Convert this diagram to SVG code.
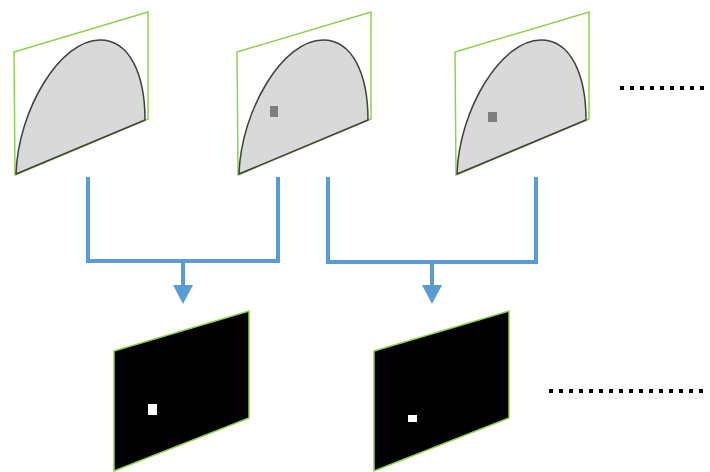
<svg xmlns="http://www.w3.org/2000/svg" xmlns:xlink="http://www.w3.org/1999/xlink" width="710" height="472" viewBox="0 0 710 472">
  <style>
    .frame { fill: none; stroke: #92d050; stroke-width: 1.5; }
    .region { fill: #d9d9d9; stroke: #404040; stroke-width: 1.5; stroke-linejoin: round; }
    .mark { fill: #7f7f7f; }
    .mask { fill: #000000; stroke: #92d050; stroke-width: 1.5; }
    .hit { fill: #ffffff; }
    .link { fill: none; stroke: #5b9bd5; stroke-width: 4; stroke-linejoin: miter; }
    .head { fill: #5b9bd5; }
    .more { stroke: #000000; stroke-width: 4; stroke-dasharray: 4 6; }
  </style>
  <defs>
    <!-- slanted frame with the grey region inside -->
    <g id="slice">
      <polygon class="frame" points="14,52 148,12 148,119 15,175"/>
      <path class="region" d="M16,174 C18,110 60,40 100,40 C130,40 145,75 145,120 Z"/>
    </g>
    <polygon id="maskShape" class="mask" points="114,351 249,311 249,418 114,471"/>
  </defs>

  <g id="slice1">
    <use xlink:href="#slice"/>
  </g>
  <g id="slice2" transform="translate(223,0)">
    <use xlink:href="#slice"/>
    <rect class="mark" x="47" y="106" width="8" height="11"/>
  </g>
  <g id="slice3" transform="translate(441,0)">
    <use xlink:href="#slice"/>
    <rect class="mark" x="47" y="112" width="9" height="10"/>
  </g>
  <g id="moreTop">
    <line class="more" x1="620" y1="88" x2="706" y2="88"/>
  </g>

  <g id="mask1">
    <use xlink:href="#maskShape"/>
    <rect class="hit" x="148" y="404" width="9" height="11"/>
  </g>
  <g id="mask2" transform="translate(260,0)">
    <use xlink:href="#maskShape"/>
    <rect class="hit" x="148" y="415" width="9" height="7"/>
  </g>
  <g id="moreBottom">
    <line class="more" x1="549" y1="391" x2="706" y2="391"/>
  </g>

  <g id="connectors">
    <path class="link" d="M88,177 V261 H278 V177"/>
    <line class="link" x1="183" y1="261" x2="183" y2="287"/>
    <polygon class="head" points="173,285 193,285 183,304"/>
    <path class="link" d="M328,177 V262 H536 V177"/>
    <line class="link" x1="432" y1="262" x2="432" y2="287"/>
    <polygon class="head" points="422,285 442,285 432,304"/>
  </g>
</svg>
